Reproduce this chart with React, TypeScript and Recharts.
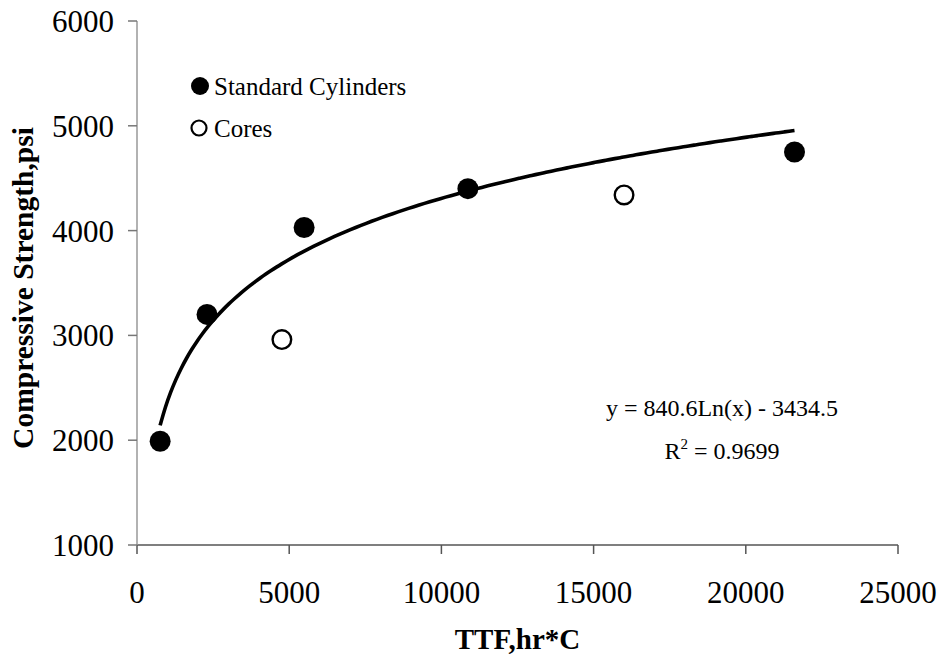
import React from "react";
import {
  ComposedChart,
  Scatter,
  Line,
  XAxis,
  YAxis,
} from "recharts";

// Temperature-time factor (hr*C) and compressive strength (psi)
const cylinderTTF = [760, 2300, 5490, 10870, 21600];
const cylinderStrength = [1990, 3200, 4030, 4400, 4750];
const coreTTF = [4760, 16000];
const coreStrength = [2960, 4340];

// Logarithmic fit through the standard cylinders: y = a*ln(x) + b
const fitSlope = 840.6;
const fitIntercept = -3434.5;
const fitR2 = "0.9699";

const seriesNames = ["Standard Cylinders", "Cores"];

const xTicks = [0, 5000, 10000, 15000, 20000, 25000];
const yTicks = [1000, 2000, 3000, 4000, 5000, 6000];

const cylinders = cylinderTTF.map((x, i) => ({ x, y: cylinderStrength[i] }));
const cores = coreTTF.map((x, i) => ({ x, y: coreStrength[i] }));

// Fitted curve sampled across the range of the cylinder data
const fitStart = Math.min(...cylinderTTF);
const fitEnd = Math.max(...cylinderTTF);
const fitSteps = 120;
const fitCurve = Array.from({ length: fitSteps + 1 }, (_, i) => {
  const x = fitStart + ((fitEnd - fitStart) * i) / fitSteps;
  return { x, y: fitSlope * Math.log(x) + fitIntercept };
});

const FONT = "'Liberation Serif', 'Times New Roman', serif";

const FilledDot = (props: any) => (
  <circle cx={props.cx} cy={props.cy} r={10.5} fill="#000" />
);
const OpenDot = (props: any) => (
  <circle cx={props.cx} cy={props.cy} r={9.3} fill="#fff" stroke="#000" strokeWidth={2.4} />
);

// Legend block in the upper-left of the plot
const LegendBlock = () => (
  <g>
    <circle cx={200} cy={86} r={9} fill="#000" />
    <text x={214} y={95} fontFamily={FONT} fontSize={25} fill="#000">
      {seriesNames[0]}
    </text>
    <circle cx={199} cy={128} r={7.5} fill="#fff" stroke="#000" strokeWidth={2.2} />
    <text x={214} y={137} fontFamily={FONT} fontSize={25} fill="#000">
      {seriesNames[1]}
    </text>
  </g>
);

export default function App() {
  return (
    <div style={{ position: "absolute", left: 0, top: 0, background: "#fff" }}>
      <ComposedChart
        width={942}
        height={663}
        margin={{ top: 21, right: 44, bottom: 0, left: 0 }}
      >
        <XAxis
          dataKey="x"
          type="number"
          domain={[0, 25000]}
          ticks={xTicks}
          allowDataOverflow
          height={118}
          stroke="#555"
          strokeWidth={1.5}
          tickSize={9}
          tickMargin={27}
          tick={{ fill: "#000", fontFamily: FONT, fontSize: 31 }}
          tickLine={{ stroke: "#555" }}
          label={{
            value: "TTF,hr*C",
            position: "insideBottom",
            offset: 14,
            fill: "#000",
            fontFamily: FONT,
            fontSize: 29,
            fontWeight: "bold",
          }}
        />
        <YAxis
          dataKey="y"
          type="number"
          domain={[1000, 6000]}
          ticks={yTicks}
          allowDataOverflow
          width={137}
          stroke="#999"
          strokeWidth={1.5}
          tickSize={9}
          tickMargin={14}
          tick={{ fill: "#000", fontFamily: FONT, fontSize: 31 }}
          tickLine={{ stroke: "#777" }}
        />
        <Line
          data={fitCurve}
          dataKey="y"
          type="monotone"
          stroke="#000"
          strokeWidth={3.6}
          dot={false}
          activeDot={false}
          legendType="none"
          isAnimationActive={false}
        />
        <Scatter
          name={seriesNames[0]}
          data={cylinders}
          shape={<FilledDot />}
          isAnimationActive={false}
        />
        <Scatter
          name={seriesNames[1]}
          data={cores}
          shape={<OpenDot />}
          isAnimationActive={false}
        />
        <LegendBlock />
        <text
          transform="translate(33, 288) rotate(-90)"
          textAnchor="middle"
          fontFamily={FONT}
          fontSize={29.5}
          fontWeight="bold"
          fill="#000"
        >
          Compressive Strength,psi
        </text>
        <text
          x={722}
          y={416}
          textAnchor="middle"
          fontFamily={FONT}
          fontSize={24}
          fill="#000"
        >
          {`y = ${fitSlope}Ln(x) - ${Math.abs(fitIntercept)}`}
        </text>
        <text
          x={722}
          y={459}
          textAnchor="middle"
          fontFamily={FONT}
          fontSize={24}
          fill="#000"
        >
          <tspan>R</tspan>
          <tspan dy={-10} fontSize={15}>2</tspan>
          <tspan dy={10}>{` = ${fitR2}`}</tspan>
        </text>
      </ComposedChart>
    </div>
  );
}
